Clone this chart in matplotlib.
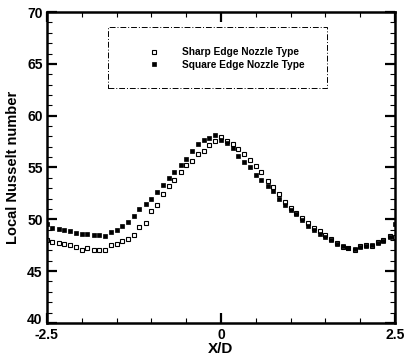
import matplotlib
matplotlib.use("Agg")
import matplotlib.pyplot as plt
from matplotlib.patches import Rectangle
from matplotlib.ticker import MultipleLocator
from matplotlib.transforms import ScaledTranslation

plt.rcParams['font.family'] = ['Liberation Sans', 'DejaVu Sans']

x_vals = [-2.50, -2.42, -2.33, -2.25, -2.17, -2.08, -2.00, -1.92, -1.83, -1.75,
          -1.67, -1.58, -1.50, -1.42, -1.33, -1.25, -1.17, -1.08, -1.00, -0.92,
          -0.83, -0.75, -0.67, -0.58, -0.50, -0.42, -0.33, -0.25, -0.17, -0.08,
          0.00, 0.08, 0.17, 0.25, 0.33, 0.42, 0.50, 0.58, 0.67, 0.75,
          0.83, 0.92, 1.00, 1.08, 1.17, 1.25, 1.33, 1.42, 1.50, 1.58,
          1.67, 1.75, 1.83, 1.92, 2.00, 2.08, 2.17, 2.25, 2.33, 2.42, 2.50]

sharp_nu = [48.0, 47.8, 47.7, 47.6, 47.5, 47.3, 47.0, 47.2, 47.0, 47.0,
            47.0, 47.5, 47.6, 47.9, 48.1, 48.5, 49.3, 49.6, 50.8, 51.4,
            52.4, 53.2, 53.8, 54.6, 55.2, 55.6, 56.3, 56.6, 57.2, 57.6,
            57.9, 57.6, 57.3, 56.8, 56.3, 55.7, 55.1, 54.6, 53.7, 53.1,
            52.4, 51.7, 51.1, 50.6, 50.1, 49.6, 49.2, 48.9, 48.5, 48.1,
            47.7, 47.3, 47.2, 47.0, 47.4, 47.5, 47.4, 47.8, 48.0, 48.4, 48.3]

square_nu = [49.5, 49.2, 49.1, 49.0, 48.9, 48.7, 48.6, 48.6, 48.5, 48.5,
             48.4, 48.8, 49.0, 49.4, 49.7, 50.3, 51.0, 51.5, 52.0, 52.6,
             53.3, 54.0, 54.6, 55.2, 55.8, 56.6, 57.3, 57.7, 57.8, 58.1,
             57.7, 57.4, 56.9, 56.1, 55.5, 55.0, 54.3, 53.8, 53.2, 52.7,
             52.0, 51.4, 50.9, 50.5, 49.9, 49.4, 49.0, 48.6, 48.3, 48.0,
             47.6, 47.4, 47.2, 47.1, 47.3, 47.4, 47.5, 47.7, 47.9, 48.3, 49.5]

labels = ["Sharp Edge Nozzle Type", "Square Edge Nozzle Type"]
x_ticks = [-2.5, 0, 2.5]
x_ticklabels = ["-2.5", "0", "2.5"]
y_ticks = [40, 45, 50, 55, 60, 65, 70]

fig = plt.figure(figsize=(4.04, 3.56), dpi=100)
ax = fig.add_axes([0.116, 0.093, 0.862, 0.873])

ax.plot(x_vals, sharp_nu, linestyle='none', marker='s', markersize=3.3,
        markerfacecolor='white', markeredgecolor='black', markeredgewidth=0.8,
        label=labels[0])
ax.plot(x_vals, square_nu, linestyle='none', marker='s', markersize=3.0,
        markerfacecolor='black', markeredgecolor='black', markeredgewidth=0.5,
        label=labels[1])

ax.set_xlim(-2.5, 2.5)
ax.set_ylim(40, 70)
ax.set_xticks(x_ticks)
ax.set_xticklabels(x_ticklabels)
ax.set_yticks(y_ticks)
ax.xaxis.set_minor_locator(MultipleLocator(0.5))
ax.yaxis.set_minor_locator(MultipleLocator(1))
ax.tick_params(which='major', direction='in', length=7, width=1.6,
               top=True, right=True, labelsize=10)
ax.tick_params(axis='x', which='major', pad=4)
ax.tick_params(axis='y', which='major', pad=3)
ax.tick_params(which='minor', direction='in', length=3.5, width=0.8,
               top=True, right=True)
for lab in ax.get_xticklabels() + ax.get_yticklabels():
    lab.set_fontweight('bold')
# raise the bottom y label slightly so it clears the "-2.5" x label
ylabs = ax.get_yticklabels()
ylabs[0].set_transform(ylabs[0].get_transform() +
                       ScaledTranslation(0, 4 / 100, fig.dpi_scale_trans))
for sp in ax.spines.values():
    sp.set_linewidth(1.8)

ax.set_xlabel("X/D", fontsize=11, fontweight='bold', labelpad=0)
ax.set_ylabel("Local Nusselt number", fontsize=10.5, fontweight='bold', labelpad=5)

ax.add_patch(Rectangle((0.175, 0.756), 0.63, 0.196, transform=ax.transAxes,
                       fill=False, edgecolor='black', linewidth=0.7,
                       linestyle=(0, (6, 2, 1, 2))))
leg = ax.legend(loc='center left', bbox_to_anchor=(0.268, 0.85), frameon=False,
                handlelength=1.0, handletextpad=2.2, labelspacing=0.25,
                prop={'size': 7.3, 'weight': 'bold'})

fig.savefig("out.png", dpi=100)
